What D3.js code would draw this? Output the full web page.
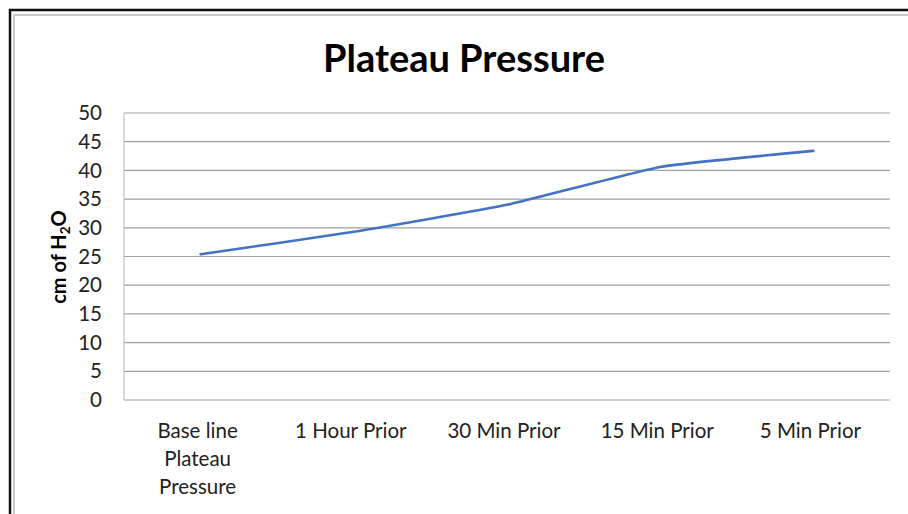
<!DOCTYPE html>
<html>
<head>
<meta charset="utf-8">
<script src="https://cdn.jsdelivr.net/npm/d3@7"></script>
<style>
  body { margin: 0; background: #fff; }
  svg { display: block; font-family: Lato, "Open Sans", sans-serif; }
</style>
</head>
<body>
<div id="chart"></div>
<script>
// Data
const categories = ["Base line Plateau Pressure", "1 Hour Prior", "30 Min Prior", "15 Min Prior", "5 Min Prior"];
const categoryLines = [["Base line", "Plateau", "Pressure"], ["1 Hour Prior"], ["30 Min Prior"], ["15 Min Prior"], ["5 Min Prior"]];
const values = [25.4, 29.3, 34.0, 40.6, 43.4];
const yTicks = [0, 5, 10, 15, 20, 25, 30, 35, 40, 45, 50];

const W = 908, H = 514;
const plot = { left: 124, right: 890, top: 113, bottom: 400 };

const svg = d3.select("#chart").append("svg")
    .attr("width", W)
    .attr("height", H);

// frame
svg.append("rect").attr("x", 10).attr("y", 10).attr("width", W + 20).attr("height", H + 20)
    .attr("fill", "none").attr("stroke", "#111").attr("stroke-width", 2.5);
svg.append("rect").attr("x", 14).attr("y", 15).attr("width", W + 20).attr("height", H + 20)
    .attr("fill", "none").attr("stroke", "#c8c8c8").attr("stroke-width", 2);

const x = d3.scaleBand().domain(categories).range([plot.left, plot.right]);
const y = d3.scaleLinear().domain([0, 50]).range([plot.bottom, plot.top]);

// gridlines
svg.append("g").selectAll("line").data(yTicks).join("line")
    .attr("x1", plot.left).attr("x2", plot.right)
    .attr("y1", d => y(d)).attr("y2", d => y(d))
    .attr("stroke", "#a0a0a0").attr("stroke-width", 1.2);

// left axis line
svg.append("line").attr("x1", plot.left).attr("x2", plot.left)
    .attr("y1", plot.top).attr("y2", plot.bottom)
    .attr("stroke", "#c0c0c0").attr("stroke-width", 1.2);

// y tick labels
svg.append("g").selectAll("text").data(yTicks).join("text")
    .attr("x", 102).attr("y", d => y(d))
    .attr("dy", "0.35em")
    .attr("text-anchor", "end")
    .attr("font-size", 20.5)
    .attr("fill", "#222")
    .text(d => d);

// x category labels
const xl = svg.append("g").selectAll("text").data(categories).join("text")
    .attr("text-anchor", "middle")
    .attr("font-size", 20.5)
    .attr("fill", "#222");
xl.each(function(d, i) {
    const t = d3.select(this);
    categoryLines[i].forEach((s, j) => {
        t.append("tspan")
            .attr("x", x(d) + x.bandwidth() / 2 - 3)
            .attr("y", 438 + j * 28)
            .text(s);
    });
});

// line
const line = d3.line()
    .x((d, i) => x(categories[i]) + x.bandwidth() / 2)
    .y(d => y(d))
    .curve(d3.curveCardinal.tension(0.6));

svg.append("path").datum(values)
    .attr("d", line)
    .attr("fill", "none")
    .attr("stroke", "#4472c4")
    .attr("stroke-width", 2.6)
    .attr("stroke-linecap", "round");

// title
svg.append("text")
    .attr("x", 464).attr("y", 72)
    .attr("text-anchor", "middle")
    .attr("font-size", 38)
    .attr("font-weight", "bold")
    .attr("fill", "#000")
    .text("Plateau Pressure");

// y axis title
const yt = svg.append("text")
    .attr("transform", "translate(66,257) rotate(-90)")
    .attr("text-anchor", "middle")
    .attr("font-size", 20)
    .attr("font-weight", "bold")
    .attr("fill", "#000");
yt.append("tspan").text("cm of H");
yt.append("tspan").attr("font-size", 13.5).attr("dy", 4).text("2");
yt.append("tspan").attr("dy", -4).text("O");
</script>
</body>
</html>
